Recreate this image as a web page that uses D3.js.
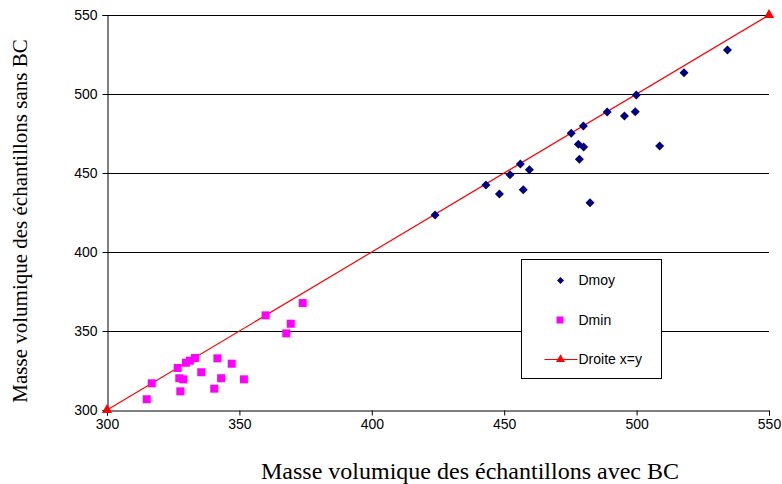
<!DOCTYPE html>
<html>
<head>
<meta charset="utf-8">
<script src="https://cdn.jsdelivr.net/npm/d3@7"></script>
<style>
  body { margin: 0; background: #fff; }
  svg { display: block; }
</style>
</head>
<body>
<div id="chart"></div>
<script>
var xTicks = [300, 350, 400, 450, 500, 550]
var yTicks = [300, 350, 400, 450, 500, 550]

// Dmoy : [avec BC, sans BC]
var dmoy = [
  [423.9, 423.4], [443.1, 442.4], [448.2, 436.7], [452.2, 448.9], [456.1, 455.7],
  [457.2, 439.4], [459.5, 452.1], [475.3, 475.1], [479.9, 479.7], [478.0, 468.2],
  [480.0, 466.5], [478.4, 458.7], [482.4, 431.2], [488.9, 488.6], [495.4, 486.1],
  [499.5, 488.8], [499.9, 499.4], [508.7, 467.1], [517.9, 513.5], [534.3, 527.8]
]
// Dmin
var dmin = [
  [315.0, 306.8], [316.9, 316.9], [326.7, 326.6], [327.3, 320.1], [328.8, 319.4],
  [327.7, 311.8], [329.8, 329.9], [331.3, 331.2], [333.2, 332.9], [335.6, 323.9],
  [341.7, 332.7], [340.5, 313.5], [343.1, 320.1], [347.1, 329.3], [351.7, 319.4],
  [359.9, 359.9], [367.7, 348.5], [369.4, 354.6], [373.9, 367.7]
]
var droite = [[300, 300], [550, 550]]

var W = 782, H = 484
var mLeft = 107, mRight = 769, mTop = 15, mBottom = 410

var svg = d3.select('#chart').append('svg')
  .attr('width', W)
  .attr('height', H)

var x = d3.scaleLinear().domain([300, 550]).range([mLeft, mRight])
var y = d3.scaleLinear().domain([300, 550]).range([mBottom, mTop])

// gridlines
svg.append('g').selectAll('line')
  .data(yTicks.filter(function (d) { return d > 300 }))
  .enter().append('line')
  .attr('x1', mLeft).attr('x2', mRight)
  .attr('y1', function (d) { return y(d) + 0.5 })
  .attr('y2', function (d) { return y(d) + 0.5 })
  .attr('stroke', '#000')
  .attr('stroke-width', 1)

// axes
var xAxis = svg.append('g')
  .attr('transform', 'translate(0,' + (mBottom + 0.5) + ')')
  .call(d3.axisBottom(x).tickValues(xTicks).tickSize(5).tickPadding(4).tickFormat(d3.format('d')))
var yAxis = svg.append('g')
  .attr('transform', 'translate(' + (mLeft + 0.5) + ',0)')
  .call(d3.axisLeft(y).tickValues(yTicks).tickSize(5).tickPadding(5).tickFormat(d3.format('d')))

;[xAxis, yAxis].forEach(function (g) {
  g.select('.domain').attr('stroke', '#000')
  g.selectAll('.tick line').attr('stroke', '#000')
  g.selectAll('text')
    .style('font-family', 'Liberation Sans, Arial, sans-serif')
    .style('font-size', '14px')
    .attr('fill', '#000')
})

// droite x=y
svg.append('path')
  .datum(droite)
  .attr('d', d3.line().x(function (d) { return x(d[0]) }).y(function (d) { return y(d[1]) }))
  .attr('stroke', '#ff0000')
  .attr('stroke-width', 1.2)
  .attr('fill', 'none')

var tri = d3.symbol().type(d3.symbolTriangle).size(45)
svg.append('g').selectAll('path')
  .data(droite)
  .enter().append('path')
  .attr('d', tri)
  .attr('transform', function (d) { return 'translate(' + x(d[0]) + ',' + y(d[1]) + ')' })
  .attr('fill', '#ff0000')

// Dmin squares
svg.append('g').selectAll('rect')
  .data(dmin)
  .enter().append('rect')
  .attr('x', function (d) { return x(d[0]) - 4 })
  .attr('y', function (d) { return y(d[1]) - 4 })
  .attr('width', 8)
  .attr('height', 8)
  .attr('fill', '#ff00ff')

// Dmoy diamonds
svg.append('g').selectAll('path')
  .data(dmoy)
  .enter().append('path')
  .attr('d', 'M0,-4.5L4.5,0L0,4.5L-4.5,0Z')
  .attr('transform', function (d) { return 'translate(' + x(d[0]) + ',' + y(d[1]) + ')' })
  .attr('fill', '#000080')

// legend
var lg = svg.append('g').attr('transform', 'translate(521.5,259.5)')
lg.append('rect')
  .attr('width', 140).attr('height', 119)
  .attr('fill', '#fff')
  .attr('stroke', '#000')
  .attr('stroke-width', 1)

var legendItems = ['Dmoy', 'Dmin', 'Droite x=y']
var itemY = [21, 61, 100]
legendItems.forEach(function (name, i) {
  var cy = itemY[i]
  if (i === 0) {
    lg.append('path').attr('d', 'M0,-3.5L3.5,0L0,3.5L-3.5,0Z')
      .attr('transform', 'translate(39,' + cy + ')').attr('fill', '#000080')
  } else if (i === 1) {
    lg.append('rect').attr('x', 35).attr('y', cy - 4).attr('width', 7).attr('height', 7).attr('fill', '#ff00ff')
  } else {
    lg.append('line').attr('x1', 23).attr('x2', 56).attr('y1', cy).attr('y2', cy)
      .attr('stroke', '#ff0000').attr('stroke-width', 1.2)
    lg.append('path').attr('d', d3.symbol().type(d3.symbolTriangle).size(35))
      .attr('transform', 'translate(39,' + cy + ')').attr('fill', '#ff0000')
  }
  lg.append('text')
    .attr('x', 57)
    .attr('y', cy)
    .attr('dy', '0.35em')
    .text(name)
    .style('font-family', 'Liberation Sans, Arial, sans-serif')
    .style('font-size', '14px')
})

// axis titles
svg.append('text')
  .attr('x', 470)
  .attr('y', 479)
  .attr('text-anchor', 'middle')
  .text('Masse volumique des échantillons avec BC')
  .style('font-family', 'Liberation Serif, Times New Roman, serif')
  .style('font-size', '24px')

svg.append('text')
  .attr('transform', 'translate(27,221) rotate(-90)')
  .attr('text-anchor', 'middle')
  .text('Masse volumique des échantillons sans BC')
  .style('font-family', 'Liberation Serif, Times New Roman, serif')
  .style('font-size', '21px')
</script>
</body>
</html>
